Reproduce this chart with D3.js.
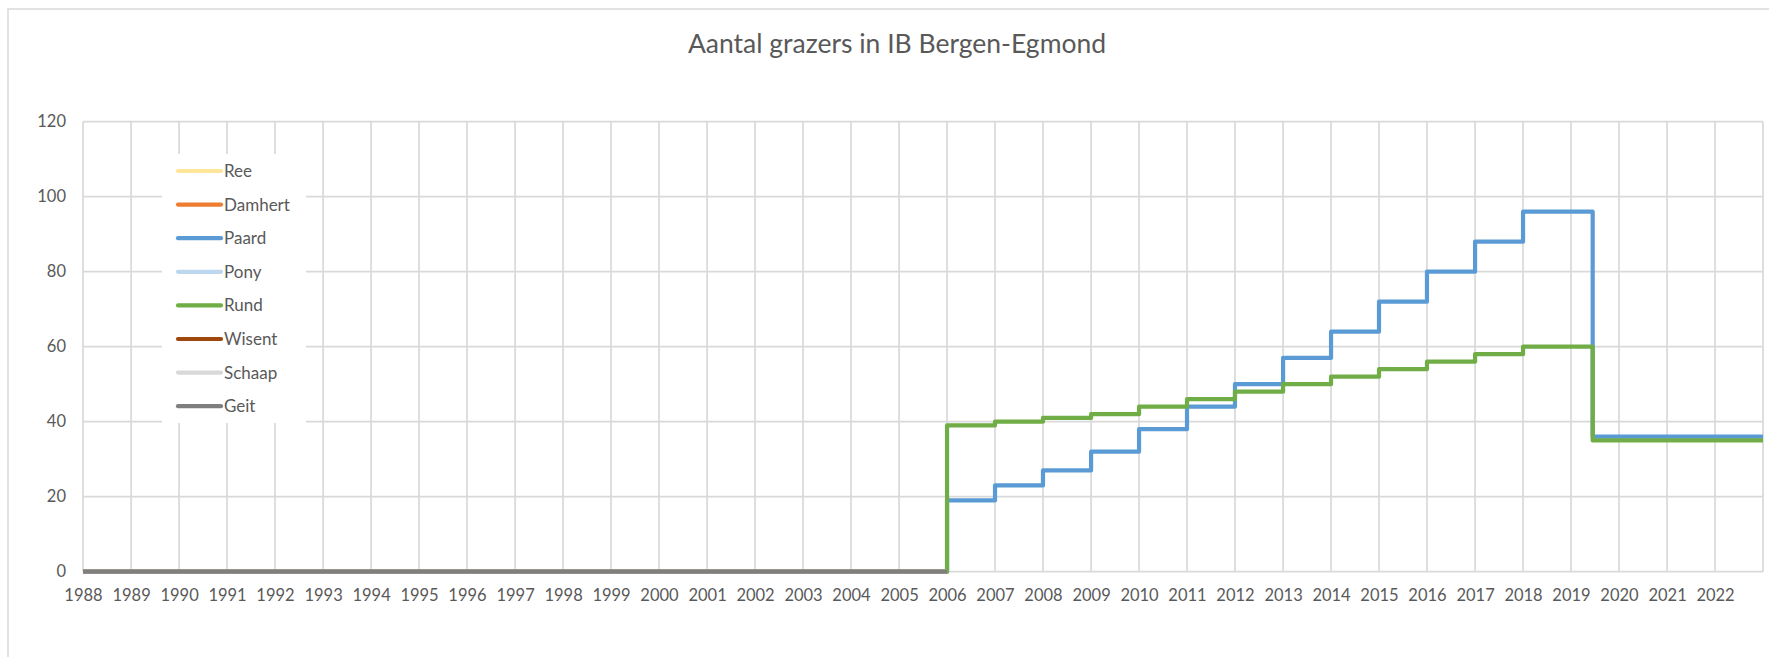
<!DOCTYPE html>
<html>
<head>
<meta charset="utf-8">
<script src="https://cdn.jsdelivr.net/npm/d3@7/dist/d3.min.js"></script>
<style>
  html, body { margin: 0; padding: 0; background: #fff; }
  svg { display: block; }
  text { font-family: Lato, "Open Sans", sans-serif; fill: #595959; }
</style>
</head>
<body>
<svg id="chart" width="1769" height="657"></svg>
<script>
// Telmomenten: één telling per jaar, plus de afname halverwege 2019
const telmomenten = [
  "1988-01-01", "1989-01-01", "1990-01-01", "1991-01-01", "1992-01-01", "1993-01-01",
  "1994-01-01", "1995-01-01", "1996-01-01", "1997-01-01", "1998-01-01", "1999-01-01",
  "2000-01-01", "2001-01-01", "2002-01-01", "2003-01-01", "2004-01-01", "2005-01-01",
  "2006-01-01", "2007-01-01", "2008-01-01", "2009-01-01", "2010-01-01", "2011-01-01",
  "2012-01-01", "2013-01-01", "2014-01-01", "2015-01-01", "2016-01-01", "2017-01-01",
  "2018-01-01", "2019-01-01", "2019-06-15", "2020-01-01", "2021-01-01", "2022-01-01"
];

const reeAantal     = [0,0,0,0,0,0,0,0,0,0,0,0,0,0,0,0,0,0, null,null,null,null,null,null,null,null,null,null,null,null,null,null,null,null,null,null];
const damhertAantal = [0,0,0,0,0,0,0,0,0,0,0,0,0,0,0,0,0,0, null,null,null,null,null,null,null,null,null,null,null,null,null,null,null,null,null,null];
const paardAantal   = [0,0,0,0,0,0,0,0,0,0,0,0,0,0,0,0,0,0, 19,23,27,32,38,44,50,57,64,72,80,88,96,96,36,36,36,36];
const ponyAantal    = [0,0,0,0,0,0,0,0,0,0,0,0,0,0,0,0,0,0, null,null,null,null,null,null,null,null,null,null,null,null,null,null,null,null,null,null];
const rundAantal    = [0,0,0,0,0,0,0,0,0,0,0,0,0,0,0,0,0,0, 39,40,41,42,44,46,48,50,52,54,56,58,60,60,35,35,35,35];
const wisentAantal  = [0,0,0,0,0,0,0,0,0,0,0,0,0,0,0,0,0,0, null,null,null,null,null,null,null,null,null,null,null,null,null,null,null,null,null,null];
const schaapAantal  = [0,0,0,0,0,0,0,0,0,0,0,0,0,0,0,0,0,0, null,null,null,null,null,null,null,null,null,null,null,null,null,null,null,null,null,null];
const geitAantal    = [0,0,0,0,0,0,0,0,0,0,0,0,0,0,0,0,0,0, null,null,null,null,null,null,null,null,null,null,null,null,null,null,null,null,null,null];

const soorten = ["Ree", "Damhert", "Paard", "Pony", "Rund", "Wisent", "Schaap", "Geit"];
const kleuren = ["#FFE699", "#ED7D31", "#5B9BD5", "#BDD7EE", "#70AD47", "#9E480E", "#D9D9D9", "#7F7F7F"];
const aantallen = [reeAantal, damhertAantal, paardAantal, ponyAantal, rundAantal, wisentAantal, schaapAantal, geitAantal];

const asBegin = "1988-01-01";
const asEinde = "2023-01-01";
const jaarLabels = ["1988","1989","1990","1991","1992","1993","1994","1995","1996","1997","1998","1999",
  "2000","2001","2002","2003","2004","2005","2006","2007","2008","2009","2010","2011",
  "2012","2013","2014","2015","2016","2017","2018","2019","2020","2021","2022"];
const yTicks = [0, 20, 40, 60, 80, 100, 120];
const titel = "Aantal grazers in IB Bergen-Egmond";

const parse = d3.utcParse("%Y-%m-%d");
const svg = d3.select("#chart");

const plot = { left: 83, right: 1763, top: 121.7, bottom: 571.7 };

const x = d3.scaleUtc()
  .domain([parse(asBegin), parse(asEinde)])
  .range([plot.left, plot.right]);
const y = d3.scaleLinear()
  .domain([0, 120])
  .range([plot.bottom, plot.top]);

// rand van het grafiekgebied
svg.append("rect")
  .attr("x", 8).attr("y", 9)
  .attr("width", 1800).attr("height", 700)
  .attr("fill", "#fff")
  .attr("stroke", "#D9D9D9").attr("stroke-width", 1.5);

// titel
svg.append("text")
  .attr("x", 897).attr("y", 53)
  .attr("text-anchor", "middle")
  .style("font-size", "26.5px")
  .text(titel);

// rasterlijnen
const jaarGrid = d3.utcYear.range(parse(asBegin), d3.utcYear.offset(parse(asEinde), 1));
svg.append("g").selectAll("line.v")
  .data(jaarGrid)
  .join("line")
  .attr("x1", d => x(d)).attr("x2", d => x(d))
  .attr("y1", plot.top).attr("y2", plot.bottom)
  .attr("stroke", "#D9D9D9").attr("stroke-width", 1.7);

svg.append("g").selectAll("line.h")
  .data(yTicks)
  .join("line")
  .attr("x1", plot.left).attr("x2", plot.right)
  .attr("y1", d => y(d)).attr("y2", d => y(d))
  .attr("stroke", "#D9D9D9").attr("stroke-width", 1.7);

// y-as
const yAxis = d3.axisLeft(y).tickValues(yTicks).tickSize(0).tickPadding(17);
const gy = svg.append("g").attr("transform", `translate(${plot.left},0)`).call(yAxis);
gy.select(".domain").remove();
gy.selectAll("text").style("font-size", "16.5px").attr("fill", "#595959").style("font-family", "Lato, sans-serif");

// x-as
const xAxis = d3.axisBottom(x)
  .tickValues(jaarLabels.map(j => parse(j + "-01-01")))
  .tickFormat(d3.utcFormat("%Y"))
  .tickSize(0).tickPadding(18);
const gx = svg.append("g").attr("transform", `translate(0,${plot.bottom})`).call(xAxis);
gx.select(".domain").remove();
gx.selectAll("text").style("font-size", "16.5px").attr("fill", "#595959").style("font-family", "Lato, sans-serif");

// trapjeslijnen: elke telling geldt tot het volgende telmoment
function trapPunten(waarden) {
  const runs = [];
  let huidig = null;
  waarden.forEach((v, i) => {
    if (v == null) { if (huidig) { runs.push(huidig); huidig = null; } return; }
    const van = parse(telmomenten[i]);
    const tot = i + 1 < telmomenten.length ? parse(telmomenten[i + 1]) : parse(asEinde);
    if (!huidig) huidig = [];
    huidig.push({ t: van, v });
    huidig.push({ t: tot, v });
  });
  if (huidig) runs.push(huidig);
  return runs;
}

const lijn = d3.line()
  .x(d => x(d.t))
  .y(d => y(d.v))
  .curve(d3.curveLinear);

const gLijnen = svg.append("g");
soorten.forEach((s, k) => {
  trapPunten(aantallen[k]).forEach(run => {
    gLijnen.append("path")
      .datum(run)
      .attr("d", lijn)
      .attr("fill", "none")
      .attr("stroke", kleuren[k])
      .attr("stroke-width", 4.2)
      .attr("stroke-linejoin", "round")
      .attr("stroke-linecap", "butt");
  });
});

// legenda
const leg = { x: 162, y: 154, w: 144, h: 269, rij: 33.6, eerste: 171 };
svg.append("rect")
  .attr("x", leg.x).attr("y", leg.y)
  .attr("width", leg.w).attr("height", leg.h)
  .attr("fill", "#fff");
const items = svg.append("g").selectAll("g")
  .data(soorten)
  .join("g")
  .attr("transform", (d, i) => `translate(0,${leg.eerste + i * leg.rij})`);
items.append("line")
  .attr("x1", 178).attr("x2", 221)
  .attr("stroke", (d, i) => kleuren[i])
  .attr("stroke-width", 4.2)
  .attr("stroke-linecap", "round");
items.append("text")
  .attr("x", 224).attr("dy", "0.35em")
  .style("font-size", "17px")
  .text(d => d);
</script>
</body>
</html>
